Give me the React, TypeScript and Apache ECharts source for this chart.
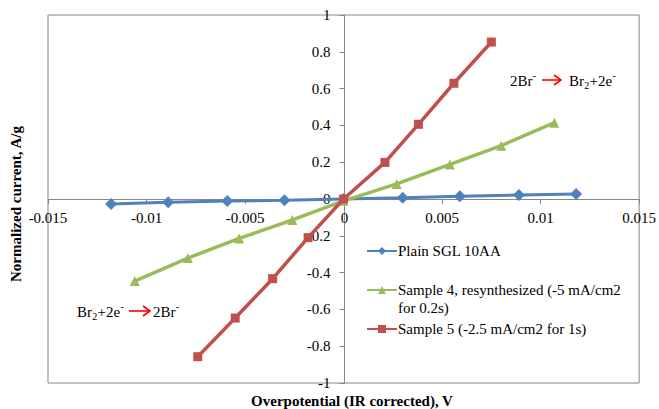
import React, { useEffect, useRef } from "react";
import * as echarts from "echarts";

const plainX = [-0.0118, -0.0089, -0.0059, -0.003, 0, 0.003, 0.0059, 0.0089, 0.0118];
const plainY = [-0.027, -0.018, -0.011, -0.007, 0, 0.007, 0.015, 0.022, 0.027];

const s4X = [-0.0106, -0.0079, -0.0053, -0.0026, 0, 0.0027, 0.0054, 0.008, 0.0107];
const s4Y = [-0.446, -0.321, -0.214, -0.114, -0.01, 0.082, 0.188, 0.29, 0.415];

const s5X = [-0.0074, -0.0055, -0.0036, -0.0018, 0, 0.0021, 0.0038, 0.0056, 0.0075];
const s5Y = [-0.857, -0.647, -0.433, -0.21, 0, 0.199, 0.406, 0.629, 0.853];

const xTicks = { min: -0.015, max: 0.015, interval: 0.005 };
const yTicks = { min: -1, max: 1, interval: 0.2 };

const seriesNames = [
  "Plain SGL 10AA",
  "Sample 4, resynthesized (-5 mA/cm2 for 0.2s)",
  "Sample 5 (-2.5 mA/cm2 for 1s)",
];

const zip = (xs: number[], ys: number[]) => xs.map((x, i) => [x, ys[i]]);

const FONT = "Liberation Serif";

const GRID = { left: 48, right: 18, top: 15, bottom: 26, width: 593, height: 368 };

function fmt(v: number) {
  if (v === 0) return "0";
  return String(Math.round(v * 1000) / 1000);
}

function arrow(x1: number, x2: number, y: number) {
  return [
    {
      type: "line",
      shape: { x1, y1: y, x2, y2: y },
      style: { stroke: "#ff0000", lineWidth: 1.6 },
    },
    {
      type: "polyline",
      shape: { points: [[x2 - 7, y - 5], [x2, y], [x2 - 7, y + 5]] },
      style: { stroke: "#ff0000", lineWidth: 1.6, fill: "none" },
    },
  ];
}

function txt(text: string, x: number, y: number, size = 15, align = "left", color = "#000") {
  return {
    type: "text",
    x,
    y,
    z: 100,
    style: {
      text,
      fontFamily: FONT,
      fontSize: size,
      fill: color,
      align,
      verticalAlign: "middle",
    },
  };
}

// "2Br-" starting at x, center y
function twoBr(x: number, y: number) {
  return [txt("2Br", x, y), txt("-", x + 22.8, y - 6, 10)];
}
// "Br2+2e-" starting at x, center y
function br2(x: number, y: number) {
  return [
    txt("Br", x, y),
    txt("2", x + 15.2, y + 4, 10),
    txt("+2e", x + 20.5, y),
    txt("-", x + 43.5, y - 6, 10),
  ];
}

export default function App() {
  const ref = useRef<HTMLDivElement>(null);
  useEffect(() => {
    document.body.style.margin = "0";
    if (!ref.current) return;
    const chart = echarts.init(ref.current, undefined, { renderer: "svg" });
    const axisLabel = { fontFamily: FONT, fontSize: 15, color: "#000" };
    const axisLineStyle = { color: "#868686", width: 1 };
    const legendBase = {
      orient: "vertical",
      left: 366,
      padding: 0,
      itemWidth: 30,
      itemHeight: 10,
      itemGap: 0,
      textStyle: { fontFamily: FONT, fontSize: 15, color: "#000", lineHeight: 18, padding: [0, 0, 0, -4] },
    };
    chart.setOption({
      animation: false,
      backgroundColor: "#fff",
      grid: {
        left: GRID.left,
        right: GRID.right,
        top: GRID.top,
        bottom: GRID.bottom,
        show: true,
        borderColor: "#868686",
        borderWidth: 1,
        containLabel: false,
      },
      xAxis: {
        type: "value",
        position: "bottom",
        offset: -GRID.height / 2,
        min: xTicks.min,
        max: xTicks.max,
        interval: xTicks.interval,
        axisLine: { show: true, onZero: false, lineStyle: axisLineStyle },
        axisTick: { show: true, inside: false, length: 5, lineStyle: axisLineStyle },
        axisLabel: {
          ...axisLabel,
          margin: 11,
          formatter: (v: number) => (v === 0 ? "" : fmt(v)),
        },
        splitLine: { show: false },
      },
      yAxis: {
        type: "value",
        position: "left",
        offset: -GRID.width / 2,
        min: yTicks.min,
        max: yTicks.max,
        interval: yTicks.interval,
        axisLine: { show: true, onZero: false, lineStyle: axisLineStyle },
        axisTick: { show: true, inside: false, length: 5, lineStyle: axisLineStyle },
        axisLabel: { ...axisLabel, margin: 14, formatter: fmt },
        splitLine: { show: false },
      },
      legend: [
        { ...legendBase, top: 242, data: [seriesNames[0]] },
        {
          ...legendBase,
          top: 263,
          data: [seriesNames[1]],
          formatter: () => "\u00a0\nSample 4, resynthesized (-5 mA/cm2\nfor 0.2s)",
        },
        { ...legendBase, top: 320, data: [seriesNames[2]] },
      ],
      series: [
        {
          name: seriesNames[0],
          type: "line",
          data: zip(plainX, plainY),
          symbol: "diamond",
          symbolSize: 12,
          lineStyle: { width: 3, color: "#4F81BD" },
          itemStyle: { color: "#4F81BD" },
          z: 3,
        },
        {
          name: seriesNames[1],
          type: "line",
          data: zip(s4X, s4Y),
          symbol: "triangle",
          symbolSize: 10,
          lineStyle: { width: 3.5, color: "#9BBB59" },
          itemStyle: { color: "#9BBB59" },
          z: 4,
        },
        {
          name: seriesNames[2],
          type: "line",
          data: zip(s5X, s5Y),
          symbol: "rect",
          symbolSize: 9,
          lineStyle: { width: 3.5, color: "#C0504D" },
          itemStyle: { color: "#C0504D" },
          z: 5,
        },
      ],
      graphic: [
        txt("0", GRID.left + GRID.width / 2, 218, 15, "center"),
        {
          type: "text",
          x: 16,
          y: 204,
          rotation: Math.PI / 2,
          style: {
            text: "Normalized current, A/g",
            fontFamily: FONT,
            fontSize: 15,
            fontWeight: "bold",
            fill: "#000",
            align: "center",
            verticalAlign: "middle",
          },
        },
        {
          type: "text",
          x: 352,
          y: 401,
          style: {
            text: "Overpotential (IR corrected), V",
            fontFamily: FONT,
            fontSize: 15,
            fontWeight: "bold",
            fill: "#000",
            align: "center",
            verticalAlign: "middle",
          },
        },
        ...twoBr(510, 81),
        ...arrow(542, 561, 80),
        ...br2(569, 81),
        ...br2(77, 312),
        ...arrow(129, 150, 311),
        ...twoBr(153, 312),
      ],
    });
    return () => chart.dispose();
  }, []);
  return <div ref={ref} style={{ width: 659, height: 409 }} />;
}
